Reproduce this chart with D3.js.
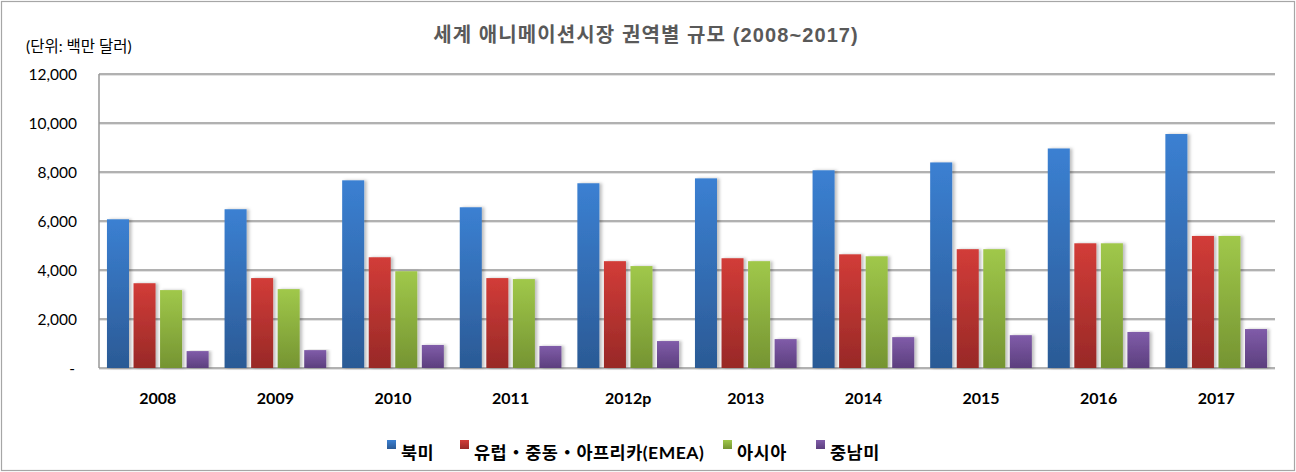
<!DOCTYPE html>
<html>
<head>
<meta charset="utf-8">
<script src="https://cdn.jsdelivr.net/npm/d3@7"></script>
<style>
  body { margin: 0; background: #fff; }
  svg { display: block; }
</style>
</head>
<body>
<div id="chart"></div>
<script>
// values (millions USD)
var categories = ['2008', '2009', '2010', '2011', '2012p', '2013', '2014', '2015', '2016', '2017'];
var seriesNames = ['북미', '유럽・중동・아프리카(EMEA)', '아시아', '중남미'];
var northAmerica = [6070, 6480, 7660, 6560, 7540, 7740, 8070, 8390, 8960, 9550];
var emea = [3460, 3670, 4520, 3670, 4360, 4480, 4640, 4850, 5090, 5390];
var asia = [3180, 3220, 3950, 3630, 4160, 4360, 4560, 4850, 5090, 5390];
var latinAmerica = [690, 730, 940, 900, 1100, 1180, 1260, 1340, 1470, 1590];
var yTicks = [0, 2000, 4000, 6000, 8000, 10000, 12000];

var width = 1296, height = 472;
var plot = { left: 99, right: 1275, top: 74, bottom: 368 };

var colors = [
  { top: '#3b80d2', bottom: '#2b5a95' },
  { top: '#d23c38', bottom: '#982927' },
  { top: '#a0c84a', bottom: '#759432' },
  { top: '#805ca9', bottom: '#5c3f7e' }
];

var values = [northAmerica, emea, asia, latinAmerica];

var svg = d3.select('#chart').append('svg')
            .attr('width', width)
            .attr('height', height);

var defs = svg.append('defs');
colors.forEach(function(c, i) {
  var g = defs.append('linearGradient')
              .attr('id', 'grad' + i)
              .attr('x1', 0).attr('y1', 0).attr('x2', 0).attr('y2', 1);
  g.append('stop').attr('offset', '0%').attr('stop-color', c.top);
  g.append('stop').attr('offset', '100%').attr('stop-color', c.bottom);
});
var f = defs.append('filter').attr('id', 'shadow')
            .attr('x', '-20%').attr('y', '-5%').attr('width', '160%').attr('height', '110%');
f.append('feDropShadow').attr('dx', 2.5).attr('dy', 0).attr('stdDeviation', 1.5)
 .attr('flood-color', '#000').attr('flood-opacity', 0.25);

// outer frame
svg.append('rect')
   .attr('x', 1.5).attr('y', 1.5)
   .attr('width', width - 3).attr('height', height - 3)
   .style('fill', 'none').style('stroke', '#a6a6a6').style('stroke-width', 1.2);

var x0 = d3.scaleBand().domain(categories).range([plot.left, plot.right]);
var x1 = d3.scaleBand().domain(d3.range(4)).range([0, x0.bandwidth()])
           .paddingInner(0.17).paddingOuter(0.3);
var y = d3.scaleLinear().domain([0, 12000]).range([plot.bottom, plot.top]);

// gridlines
var grid = svg.append('g');
grid.selectAll('.shade').data(yTicks).enter().append('line')
    .attr('x1', plot.left).attr('x2', plot.right)
    .attr('y1', function(d) { return y(d) + 1.5; })
    .attr('y2', function(d) { return y(d) + 1.5; })
    .style('stroke', '#e2e2e2').style('stroke-width', 1.2);
grid.selectAll('.grid').data(yTicks).enter().append('line')
    .attr('x1', plot.left).attr('x2', plot.right)
    .attr('y1', function(d) { return y(d); })
    .attr('y2', function(d) { return y(d); })
    .style('stroke', '#979797').style('stroke-width', 1.5);

// left axis line
svg.append('line')
   .attr('x1', plot.left).attr('x2', plot.left)
   .attr('y1', plot.top).attr('y2', plot.bottom)
   .style('stroke', '#979797').style('stroke-width', 1.5);

// y axis labels
var yAxis = d3.axisLeft(y).tickValues(yTicks).tickSize(0).tickPadding(0)
              .tickFormat(function(d) { return d === 0 ? '-' : d3.format(',')(d); });
var ya = svg.append('g').attr('transform', 'translate(' + (plot.left - 22) + ',0)').call(yAxis);
ya.select('.domain').remove();
ya.selectAll('text')
  .attr('dy', '0.35em')
  .style('font-family', 'Lato, "Noto Sans CJK KR", sans-serif')
  .style('font-size', '15.5px').style('fill', '#000');
ya.selectAll('.tick').filter(function(d) { return d === 0; }).select('text')
  .attr('x', -2);

// bars
var groups = svg.selectAll('.cat').data(categories).enter().append('g')
                .attr('class', 'cat')
                .attr('transform', function(d) { return 'translate(' + x0(d) + ',0)'; });
groups.selectAll('rect')
      .data(function(d, i) { return values.map(function(v, s) { return { s: s, v: v[i] }; }); })
      .enter().append('rect')
      .attr('x', function(d) { return x1(d.s); })
      .attr('y', function(d) { return y(d.v); })
      .attr('width', x1.bandwidth())
      .attr('height', function(d) { return y(0) - y(d.v); })
      .style('fill', function(d) { return 'url(#grad' + d.s + ')'; })
      .attr('filter', 'url(#shadow)');

// x axis labels
var xAxis = d3.axisBottom(x0).tickSize(0).tickPadding(0);
var xa = svg.append('g').attr('transform', 'translate(0,' + (plot.bottom + 36) + ')').call(xAxis);
xa.select('.domain').remove();
xa.selectAll('text')
  .attr('dy', 0)
  .style('font-family', 'Lato, "Noto Sans CJK KR", sans-serif')
  .style('font-size', '16px').style('font-weight', 'bold').style('fill', '#000');

// title & unit
svg.append('text')
   .text('세계 애니메이션시장 권역별 규모 (2008~2017)')
   .attr('x', 646).attr('y', 42)
   .attr('text-anchor', 'middle')
   .style('font-family', '"Liberation Sans", "Noto Sans CJK KR", sans-serif')
   .style('font-size', '20px').style('font-weight', 'bold').style('fill', '#595959')
   .style('letter-spacing', '1.1px');

svg.append('text')
   .text('(단위: 백만 달러)')
   .attr('x', 26).attr('y', 52)
   .style('font-family', 'Lato, "Noto Sans CJK KR", sans-serif')
   .style('font-size', '15.5px').style('fill', '#000');

// legend
var legendX = [387, 460, 723, 816];
var legend = svg.selectAll('.legend').data(seriesNames).enter().append('g')
                .attr('class', 'legend')
                .attr('transform', function(d, i) { return 'translate(' + legendX[i] + ',0)'; });
legend.append('rect')
      .attr('x', 0).attr('y', 440)
      .attr('width', 9).attr('height', 9)
      .style('fill', function(d, i) { return 'url(#grad' + i + ')'; });
legend.append('text')
      .text(function(d) { return d; })
      .attr('x', 14).attr('y', 459)
      .style('font-family', 'Lato, "Noto Sans CJK KR", sans-serif')
      .style('font-size', '17.5px').style('font-weight', 'bold').style('fill', '#000')
      .style('letter-spacing', '0.5px');
</script>
</body>
</html>
